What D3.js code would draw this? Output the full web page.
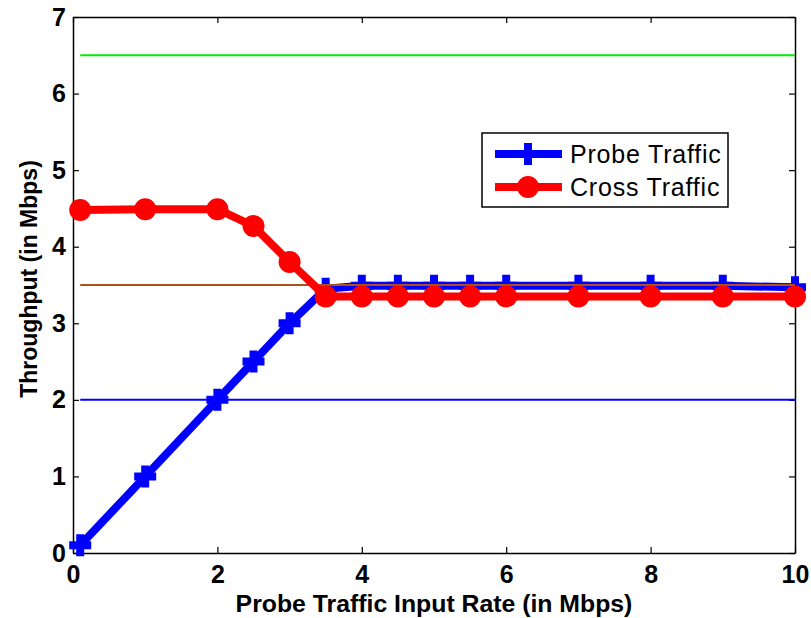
<!DOCTYPE html>
<html>
<head>
<meta charset="utf-8">
<script src="https://cdn.jsdelivr.net/npm/d3@7"></script>
<style>
  html, body { margin: 0; padding: 0; background: #fff; }
  svg { display: block; font-family: "Liberation Sans", Arial, Helvetica, sans-serif; }
</style>
</head>
<body>
<svg id="chart" width="811" height="618"></svg>
<script>
// Probe traffic input rate (Mbps)
const inputRate = [0.1, 1, 2, 2.5, 3, 3.5, 4, 4.5, 5, 5.5, 6, 7, 8, 9, 10];
// Measured throughput (Mbps)
const probeThroughput = [0.1, 1.0, 2.0, 2.5, 3.0, 3.45, 3.49, 3.49, 3.49, 3.49, 3.49, 3.49, 3.49, 3.49, 3.47];
const crossThroughput = [4.48, 4.49, 4.49, 4.27, 3.8, 3.35, 3.35, 3.35, 3.35, 3.35, 3.35, 3.35, 3.35, 3.35, 3.35];
// Reference levels (Mbps)
const referenceLevels = [6.5, 3.5, 2.0];
const referenceColors = ["#00ee00", "#b0501c", "#0000ff"];
const xTicks = [0, 2, 4, 6, 8, 10];
const yTicks = [0, 1, 2, 3, 4, 5, 6, 7];
const seriesNames = ["Probe Traffic", "Cross Traffic"];

const svg = d3.select("#chart");
const plot = { left: 73, right: 795, top: 17, bottom: 553 };

const x = d3.scaleLinear().domain([0, 10]).range([plot.left, plot.right]);
const y = d3.scaleLinear().domain([0, 7]).range([plot.bottom, plot.top]);
const fmt = d3.format("d");

// Axes with inward ticks on all four sides
const tickLen = 6;
svg.append("g")
  .attr("transform", `translate(0,${plot.bottom})`)
  .call(d3.axisBottom(x).tickValues(xTicks).tickFormat(fmt).tickSizeInner(-tickLen).tickSizeOuter(0))
  .call(g => g.selectAll("text").attr("font-size", 25).attr("font-weight", "bold").attr("fill", "#000").attr("dy", "0.72em").attr("y", 12));
svg.append("g")
  .attr("transform", `translate(0,${plot.top})`)
  .call(d3.axisTop(x).tickValues(xTicks).tickSizeInner(-tickLen).tickSizeOuter(0).tickFormat(""));
svg.append("g")
  .attr("transform", `translate(${plot.left},0)`)
  .call(d3.axisLeft(y).tickValues(yTicks).tickFormat(fmt).tickSizeInner(-tickLen).tickSizeOuter(0))
  .call(g => g.selectAll("text").attr("font-size", 25).attr("font-weight", "bold").attr("fill", "#000").attr("x", -7));
svg.append("g")
  .attr("transform", `translate(${plot.right},0)`)
  .call(d3.axisRight(y).tickValues(yTicks).tickSizeInner(-tickLen).tickSizeOuter(0).tickFormat(""));
svg.selectAll(".domain").attr("stroke", "#000").attr("stroke-width", 1.5);
svg.selectAll(".tick line").attr("stroke", "#000").attr("stroke-width", 1.2);

const line = d3.line().x(d => x(d[0])).y(d => y(d[1]));
const probeData = inputRate.map((r, i) => [r, probeThroughput[i]]);
const crossData = inputRate.map((r, i) => [r, crossThroughput[i]]);

// Probe traffic series
svg.append("path").datum(probeData)
  .attr("d", line).attr("fill", "none").attr("stroke", "#0000ff")
  .attr("stroke-width", 8).attr("stroke-linejoin", "round");
const plusPath = (cx, cy, s) => `M${cx - s},${cy}H${cx + s}M${cx},${cy - s}V${cy + s}`;
svg.append("g").selectAll("path").data(probeData).join("path")
  .attr("d", d => plusPath(x(d[0]), y(d[1]), 11))
  .attr("stroke", "#0000ff").attr("stroke-width", 8).attr("fill", "none");

// Reference levels
svg.append("g").selectAll("line").data(referenceLevels).join("line")
  .attr("x1", x(0.1)).attr("x2", x(10))
  .attr("y1", d => y(d)).attr("y2", d => y(d))
  .attr("stroke", (d, i) => referenceColors[i]).attr("stroke-width", 2);

// Cross traffic series
svg.append("path").datum(crossData)
  .attr("d", line).attr("fill", "none").attr("stroke", "#ff0000")
  .attr("stroke-width", 8).attr("stroke-linejoin", "round");
svg.append("g").selectAll("circle").data(crossData).join("circle")
  .attr("cx", d => x(d[0])).attr("cy", d => y(d[1])).attr("r", 11)
  .attr("fill", "#ff0000");

// Legend
const lg = svg.append("g");
lg.append("rect").attr("x", 482).attr("y", 133).attr("width", 246).attr("height", 74)
  .attr("fill", "#fff").attr("stroke", "#000").attr("stroke-width", 1.5);
const legendRows = [
  { name: seriesNames[0], color: "#0000ff", y: 154, marker: "plus" },
  { name: seriesNames[1], color: "#ff0000", y: 187, marker: "circle" }
];
legendRows.forEach(r => {
  lg.append("line").attr("x1", 495).attr("x2", 562).attr("y1", r.y).attr("y2", r.y)
    .attr("stroke", r.color).attr("stroke-width", 8);
  if (r.marker === "plus") {
    lg.append("path").attr("d", plusPath(528, r.y, 11)).attr("stroke", r.color).attr("stroke-width", 8);
  } else {
    lg.append("circle").attr("cx", 528).attr("cy", r.y).attr("r", 11).attr("fill", r.color);
  }
  lg.append("text").attr("x", 570).attr("y", r.y).attr("dy", "0.35em")
    .attr("font-size", 25).attr("letter-spacing", 0.8).attr("fill", "#000").text(r.name);
});

// Axis titles
svg.append("text").attr("x", (plot.left + plot.right) / 2).attr("y", 612)
  .attr("text-anchor", "middle").attr("font-size", 24.8).attr("font-weight", "bold")
  .text("Probe Traffic Input Rate (in Mbps)");
svg.append("text").attr("transform", `translate(37,${(plot.top + plot.bottom) / 2 - 6}) rotate(-90)`)
  .attr("text-anchor", "middle").attr("font-size", 23).attr("font-weight", "bold")
  .text("Throughput (in Mbps)");
</script>
</body>
</html>
